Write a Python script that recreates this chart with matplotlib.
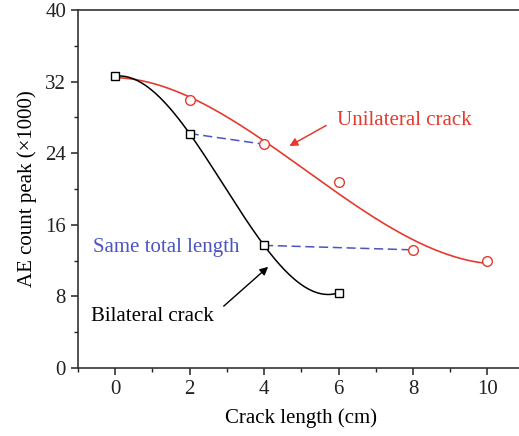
import numpy as np
import matplotlib
matplotlib.use("Agg")
import matplotlib.pyplot as plt
from matplotlib.ticker import MultipleLocator

plt.rcParams["font.family"] = ["Liberation Serif", "DejaVu Serif"]

# data
uni_x = [0, 2, 4, 6, 8, 10]
uni_y = [32.6, 30.0, 25.0, 20.8, 13.2, 12.0]
bi_x = [0, 2, 4, 6]
bi_y = [32.6, 26.2, 13.7, 8.4]
same_a_x = [2, 4]
same_a_y = [26.2, 25.0]
same_b_x = [4, 8]
same_b_y = [13.7, 13.2]

RED = "#e53a2f"
BLUE = "#4a55c0"

fig = plt.figure(figsize=(5.19, 4.36), dpi=100)
ax = fig.add_axes([0.150, 0.156, 0.861, 0.821])

# smooth curves
xs = np.linspace(0, 10, 200)
ax.plot(xs, np.polyval(np.polyfit(uni_x, uni_y, 3), xs), color=RED, lw=1.2, zorder=2)
xb = np.linspace(0, 6, 200)
ax.plot(xb, np.polyval(np.polyfit(bi_x, bi_y, 3), xb), color="black", lw=1.1, zorder=2)

ax.plot(same_a_x, same_a_y, ls=(0, (6, 3)), color=BLUE, lw=1.1, zorder=2)
ax.plot(same_b_x, same_b_y, ls=(0, (6, 3)), color=BLUE, lw=1.1, zorder=2)

ax.plot(uni_x[1:], uni_y[1:], "o", ms=7, mfc="white", mec=RED, mew=1.0, zorder=3)
ax.plot(bi_x, bi_y, "s", ms=6, mfc="white", mec="black", mew=1.0, zorder=4)

ax.annotate("Unilateral crack", xy=(4.68, 24.8), xytext=(5.97, 27.7),
            color=RED, fontsize=15, va="center", ha="left",
            arrowprops=dict(arrowstyle="-|>", color=RED, lw=1.1, mutation_scale=12,
                            shrinkA=7, shrinkB=0, relpos=(0, 0.55)))
ax.text(-0.58, 13.5, "Same total length", color=BLUE, fontsize=15, va="center", ha="left")
ax.annotate("Bilateral crack", xy=(4.11, 11.3), xytext=(-0.65, 5.7),
            color="black", fontsize=15, va="center", ha="left",
            arrowprops=dict(arrowstyle="-|>", color="black", lw=1.0, mutation_scale=12,
                            shrinkA=7, shrinkB=0, relpos=(1.0, 0.6)))

ax.set_xlim(-1, 11)
ax.set_ylim(0, 40)
ax.xaxis.set_major_locator(MultipleLocator(2))
ax.xaxis.set_minor_locator(MultipleLocator(1))
ax.yaxis.set_major_locator(MultipleLocator(8))
ax.yaxis.set_minor_locator(MultipleLocator(4))
ax.tick_params(which="major", direction="out", length=5, width=1.1, labelsize=15, colors="#222222")
ax.tick_params(which="minor", direction="out", length=3, width=1.0, colors="#222222")
for s in ax.spines.values():
    s.set_linewidth(1.2)
    s.set_color("#333333")

ax.set_xlabel("Crack length (cm)", fontsize=15, labelpad=7)
ax.set_ylabel("AE count peak (×1000)", fontsize=15, labelpad=6)

fig.savefig("out.png", dpi=100)
